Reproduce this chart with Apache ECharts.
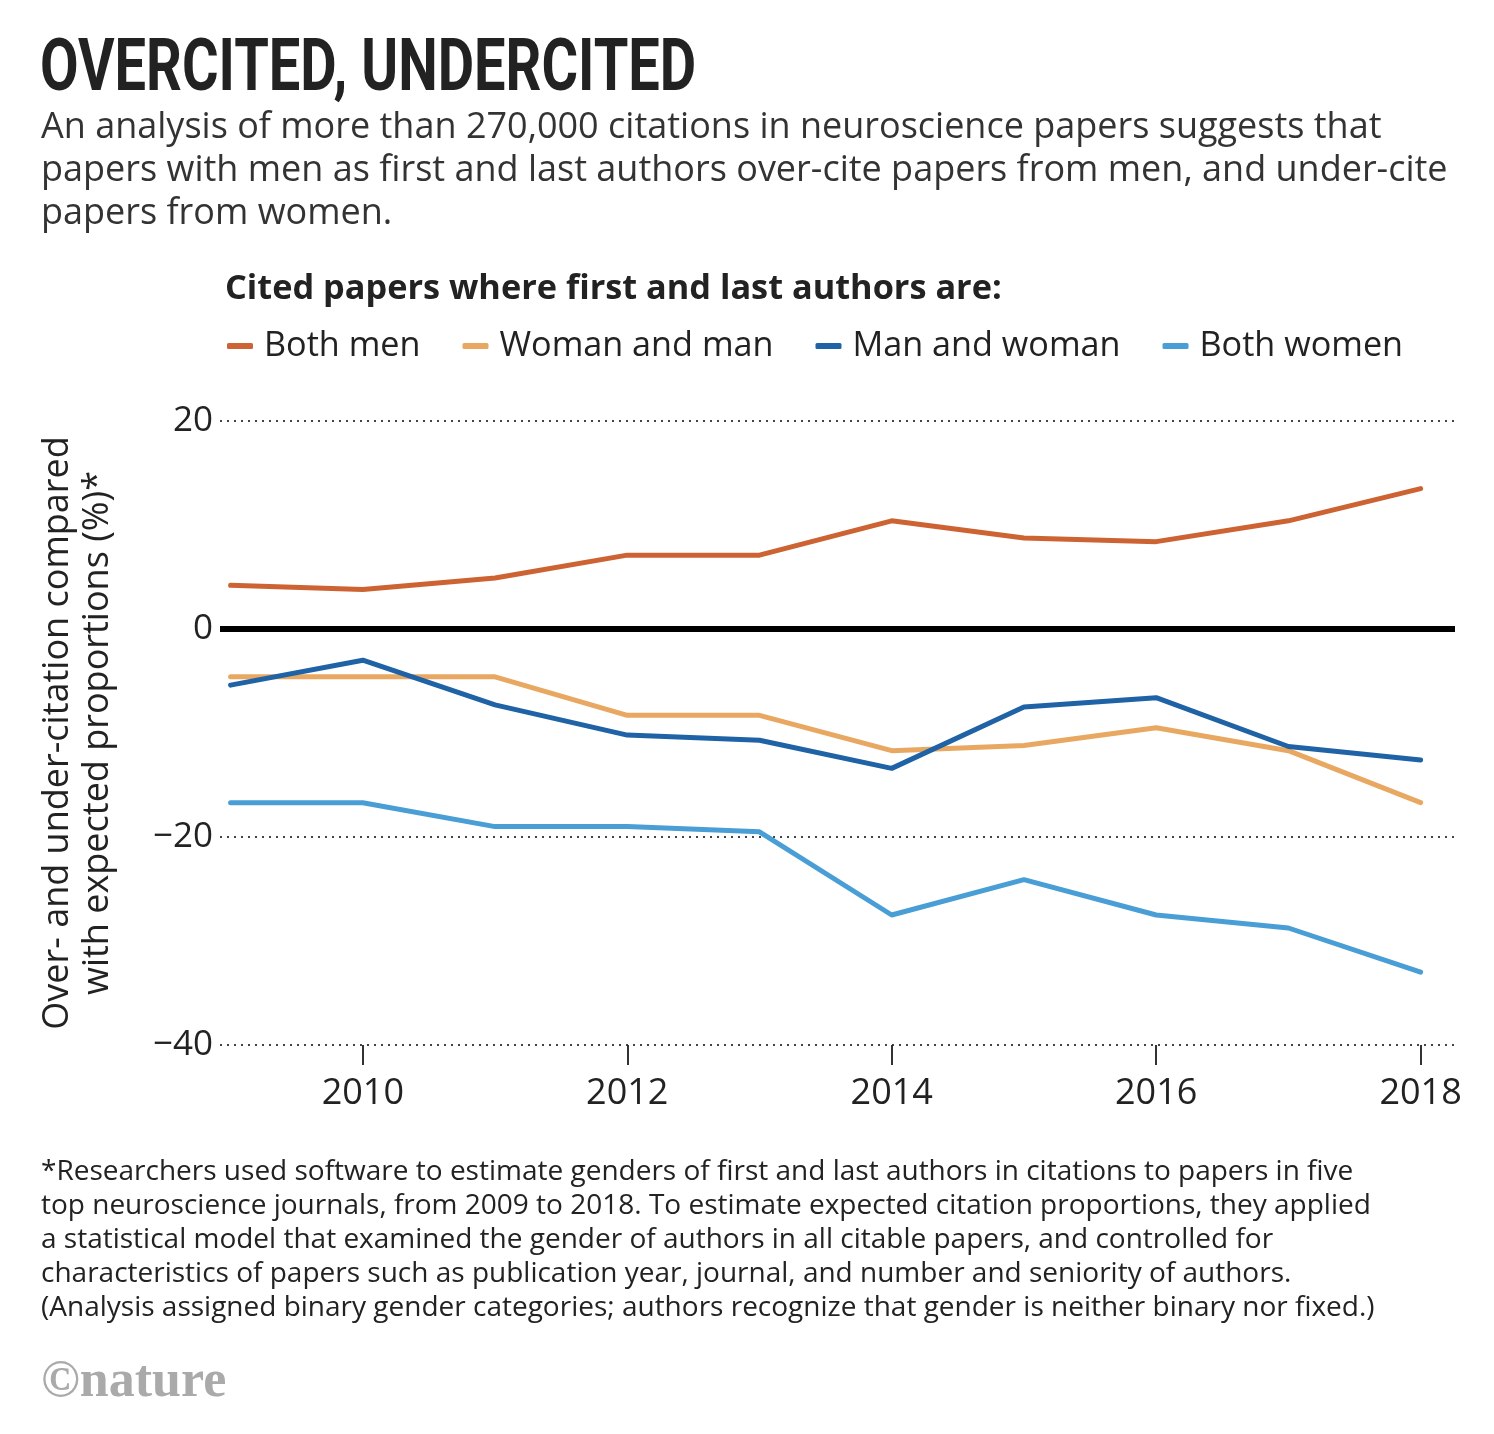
<!DOCTYPE html>
<html>
<head>
<meta charset="utf-8">
<script src="https://cdn.jsdelivr.net/npm/echarts@6/dist/echarts.min.js"></script>
<style>html,body{margin:0;padding:0;background:#fff;}#c{width:1494px;height:1434px;}</style>
</head>
<body>
<div id="c"></div>
<script>
const years = [2009, 2010, 2011, 2012, 2013, 2014, 2015, 2016, 2017, 2018];
const tickYears = [2010, 2012, 2014, 2016, 2018];
const seriesNames = ['Both men', 'Woman and man', 'Man and woman', 'Both women'];
const bothMen = [4.2, 3.8, 4.9, 7.1, 7.1, 10.4, 8.75, 8.4, 10.4, 13.5];
const womanAndMan = [-4.6, -4.6, -4.6, -8.3, -8.3, -11.7, -11.2, -9.5, -11.7, -16.7];
const manAndWoman = [-5.4, -3.0, -7.3, -10.2, -10.7, -13.4, -7.5, -6.6, -11.3, -12.6];
const bothWomen = [-16.7, -16.7, -19.0, -19.0, -19.5, -27.5, -24.1, -27.5, -28.75, -33.0];
const yTicks = [-40, -20, 0, 20];

const colors = ['#cd6332', '#e9a862', '#1f63a6', '#4a9ed6'];
const allValues = [bothMen, womanAndMan, manAndWoman, bothWomen];
const FONT = 'Open Sans';

const chart = echarts.init(document.getElementById('c'), null, {renderer: 'canvas'});

const lineSeries = seriesNames.map((name, i) => ({
  name: name,
  type: 'line',
  data: years.map((y, j) => [y, allValues[i][j]]),
  showSymbol: false,
  symbol: 'none',
  z: 3 + i,
  lineStyle: {color: colors[i], width: 5, cap: 'round', join: 'round'},
  itemStyle: {color: colors[i]},
  emphasis: {disabled: true}
}));

lineSeries.push({
  name: 'zero',
  type: 'line',
  data: [],
  markLine: {
    silent: true,
    symbol: 'none',
    label: {show: false},
    lineStyle: {color: '#000', width: 6, type: 'solid'},
    data: [{yAxis: 0}]
  },
  z: 2
});

const option = {
  backgroundColor: '#fff',
  animation: false,
  graphic: [
    {
      type: 'text', x: 40, y: 72, scaleX: 0.767, scaleY: 1,
      style: {text: 'OVERCITED, UNDERCITED', fontFamily: 'Roboto', fontWeight: 'bold', fontSize: 73,
        fill: '#222', align: 'left', verticalAlign: 'middle'}
    }
  ],
  title: [
    {
      text: 'An analysis of more than 270,000 citations in neuroscience papers suggests that\npapers with men as first and last authors over-cite papers from men, and under-cite\npapers from women.',
      left: 36, top: 101,
      textStyle: {fontFamily: FONT, fontWeight: 'normal', fontSize: 36, lineHeight: 43, color: '#333'}
    },
    {
      text: 'Cited papers where first and last authors are:',
      left: 220, top: 267,
      textStyle: {fontFamily: FONT, fontWeight: 'bold', fontSize: 34.3, color: '#222'}
    },
    {
      text: '*Researchers used software to estimate genders of first and last authors in citations to papers in five\ntop neuroscience journals, from 2009 to 2018. To estimate expected citation proportions, they applied\na statistical model that examined the gender of authors in all citable papers, and controlled for\ncharacteristics of papers such as publication year, journal, and number and seniority of authors.\n(Analysis assigned binary gender categories; authors recognize that gender is neither binary nor fixed.)',
      left: 36, top: 1150,
      textStyle: {fontFamily: FONT, fontWeight: 'normal', fontSize: 28, lineHeight: 34, color: '#222'}
    },
    {
      text: '©nature',
      left: 36, top: 1352,
      textStyle: {fontFamily: 'Liberation Serif', fontWeight: 'bold', fontSize: 52, color: '#aaaaaa'}
    }
  ],
  legend: {
    left: 222, top: 324,
    data: seriesNames,
    icon: 'roundRect',
    itemWidth: 26, itemHeight: 6,
    itemGap: 42,
    textStyle: {fontFamily: FONT, fontSize: 34.2, color: '#222', padding: [0, 0, 0, 6]},
    selectedMode: false
  },
  grid: {left: 220, right: 39, top: 421, bottom: 389, containLabel: false, outerBoundsMode: 'none'},
  xAxis: {
    type: 'value',
    min: 2008.92,
    max: 2018.26,
    axisLine: {show: false, onZero: false},
    axisTick: {show: true, customValues: tickYears, length: 20, lineStyle: {color: '#333', width: 2}},
    axisLabel: {customValues: tickYears, margin: 31, fontFamily: FONT, fontSize: 36, color: '#222', formatter: v => String(v)},
    splitLine: {show: false}
  },
  yAxis: {
    type: 'value',
    min: -40, max: 20, interval: 20,
    axisLine: {show: false},
    axisTick: {show: false},
    axisLabel: {margin: 7, fontFamily: FONT, fontSize: 35, color: '#222',
      formatter: v => (v < 0 ? '\u2212' + Math.abs(v) : String(v))},
    splitLine: {show: true, lineStyle: {color: '#444', width: 2, type: [2, 5]}},
    name: 'Over- and under-citation compared\nwith expected proportions (%)*',
    nameLocation: 'middle',
    nameGap: 102,
    nameRotate: 90,
    nameTextStyle: {fontFamily: FONT, fontSize: 36, lineHeight: 40, color: '#222', align: 'center'}
  },
  series: lineSeries
};
chart.setOption(option);
</script>
</body>
</html>
